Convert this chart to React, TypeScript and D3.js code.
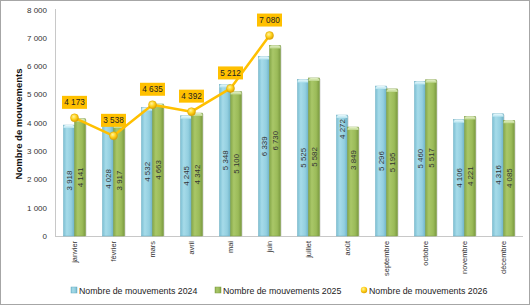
import React from "react";
import * as d3 from "d3";

const months = ["janvier", "février", "mars", "avril", "mai", "juin", "juillet", "août", "septembre", "octobre", "novembre", "décembre"];
const values2024 = [3918, 4028, 4532, 4245, 5348, 6339, 5525, 4272, 5296, 5460, 4106, 4316];
const values2025 = [4141, 3917, 4663, 4342, 5100, 6730, 5582, 3849, 5195, 5517, 4221, 4085];
const values2026 = [4173, 3538, 4635, 4392, 5212, 7080];
const yTicks = [0, 1000, 2000, 3000, 4000, 5000, 6000, 7000, 8000];
const seriesNames = ["Nombre de mouvements 2024", "Nombre de mouvements 2025", "Nombre de mouvements 2026"];

const W = 530;
const H = 305;
const FONT = "'Liberation Sans', Arial, sans-serif";

const fmt = (v: number) => {
  const s = String(Math.round(v));
  return s.length > 3 ? s.slice(0, s.length - 3) + " " + s.slice(-3) : s;
};

export default function App() {
  const x = d3.scaleBand<string>().domain(months).range([55, 523]).paddingInner(0).paddingOuter(0);
  const y = d3.scaleLinear().domain([0, 8000]).range([236, 9.5]);
  const bw = 11;

  const linePts = values2026.map((v, i) => [x(months[i])! + x.bandwidth() / 2, y(v)] as [number, number]);
  const line = d3.line<[number, number]>()(linePts) || "";

  // value labels sit at the bar middle; the August pair is lifted towards the bar tops
  const labelY = (i: number, k: number, top: number, bottom: number) => {
    if (months[i] === "août") return k === 0 ? top + 14 : top + 33;
    return (top + bottom) / 2;
  };

  const bar = (v: number, i: number, k: number) => {
    const cx = x(months[i])! + x.bandwidth() / 2;
    const x0 = k === 0 ? cx - bw : cx;
    const top = y(v);
    const bottom = y(0);
    const grad = k === 0 ? "url(#gBlue)" : "url(#gGreen)";
    const cap = k === 0 ? "url(#cBlue)" : "url(#cGreen)";
    const stroke = k === 0 ? "#6aaec2" : "#7f9e45";
    return (
      <g key={`${k}-${i}`}>
        <rect x={x0 + 1.2} y={top + 1} width={bw} height={bottom - top - 1} fill="#000" opacity={0.12} />
        <rect x={x0} y={top} width={bw} height={bottom - top} fill={grad} stroke={stroke} strokeWidth={0.5} />
        <path d={`M${x0},${top + 3} Q${x0},${top} ${x0 + 2.5},${top} L${x0 + bw - 2.5},${top} Q${x0 + bw},${top} ${x0 + bw},${top + 3} Z`} fill={cap} />
        <text
          transform={`translate(${cx + (k === 0 ? -bw / 2 : bw / 2) + 2.7},${labelY(i, k, top, bottom)}) rotate(-90)`}
          textAnchor="middle"
          fontSize={7.9}
          fill="#333"
          fontFamily={FONT}
        >
          {fmt(v)}
        </text>
      </g>
    );
  };

  return (
    <svg width={W} height={H} style={{ position: "absolute", left: 0, top: 0 }}>
      <defs>
        <linearGradient id="gBlue" x1="0" x2="1" y1="0" y2="0">
          <stop offset="0" stopColor="#7dc0d4" />
          <stop offset="0.3" stopColor="#a6dbe9" />
          <stop offset="0.7" stopColor="#93cfe0" />
          <stop offset="1" stopColor="#6eb2c7" />
        </linearGradient>
        <linearGradient id="gGreen" x1="0" x2="1" y1="0" y2="0">
          <stop offset="0" stopColor="#86a84a" />
          <stop offset="0.3" stopColor="#a9c768" />
          <stop offset="0.7" stopColor="#9bbb59" />
          <stop offset="1" stopColor="#7b9a40" />
        </linearGradient>
        <linearGradient id="cBlue" x1="0" x2="0" y1="0" y2="1">
          <stop offset="0" stopColor="#e8f8fc" />
          <stop offset="1" stopColor="#b4e3ef" />
        </linearGradient>
        <linearGradient id="cGreen" x1="0" x2="0" y1="0" y2="1">
          <stop offset="0" stopColor="#e4f0c8" />
          <stop offset="1" stopColor="#bcd68a" />
        </linearGradient>
        <radialGradient id="dot" cx="0.4" cy="0.35" r="0.7">
          <stop offset="0" stopColor="#fff3a0" />
          <stop offset="0.5" stopColor="#ffd21a" />
          <stop offset="1" stopColor="#d99a00" />
        </radialGradient>
      </defs>

      <rect x={0.5} y={0.5} width={W - 1} height={H - 1} fill="#fff" stroke="#a6a6a6" strokeWidth={1} />

      {/* axes */}
      <line x1={55.5} x2={55.5} y1={9} y2={236} stroke="#c8c8c8" strokeWidth={1} />
      <line x1={55} x2={523} y1={236.5} y2={236.5} stroke="#c8c8c8" strokeWidth={1} />

      {yTicks.map((t) => (
        <text key={t} x={47} y={y(t) + 3} textAnchor="end" fontSize={8} fill="#333" fontFamily={FONT}>
          {fmt(t)}
        </text>
      ))}

      <text
        transform={`translate(22,124) rotate(-90)`}
        textAnchor="middle"
        fontSize={9.5}
        fontWeight="bold"
        fill="#111"
        fontFamily={FONT}
      >
        Nombre de mouvements
      </text>

      {months.map((m) => (
        <text
          key={m}
          transform={`translate(${x(m)! + x.bandwidth() / 2 + 2.5},241) rotate(-90)`}
          textAnchor="end"
          fontSize={7.4}
          fill="#333"
          fontFamily={FONT}
        >
          {m}
        </text>
      ))}

      {values2024.map((v, i) => bar(v, i, 0))}
      {values2025.map((v, i) => bar(v, i, 1))}

      <path d={line} fill="none" stroke="#ffc000" strokeWidth={2.5} strokeLinejoin="round" />
      {linePts.map(([px, py], i) => (
        <g key={i}>
          <circle cx={px} cy={py} r={4} fill="url(#dot)" stroke="#d8a000" strokeWidth={0.5} />
          <rect x={px - 12.5} y={py - 22} width={25} height={13} fill="#ffc000" />
          <text x={px} y={py - 12.5} textAnchor="middle" fontSize={8.2} fill="#222" fontFamily={FONT}>
            {fmt(values2026[i])}
          </text>
        </g>
      ))}

      {/* legend */}
      <rect x={71} y={287} width={6} height={6} fill="url(#gBlue)" stroke="#6aaec2" strokeWidth={0.5} />
      <text x={79} y={293.5} fontSize={8.8} fill="#222" fontFamily={FONT}>{seriesNames[0]}</text>
      <rect x={215} y={287} width={6} height={6} fill="url(#gGreen)" stroke="#7f9e45" strokeWidth={0.5} />
      <text x={223} y={293.5} fontSize={8.8} fill="#222" fontFamily={FONT}>{seriesNames[1]}</text>
      <circle cx={364} cy={290} r={3.2} fill="url(#dot)" />
      <text x={369} y={293.5} fontSize={8.8} fill="#222" fontFamily={FONT}>{seriesNames[2]}</text>
    </svg>
  );
}
